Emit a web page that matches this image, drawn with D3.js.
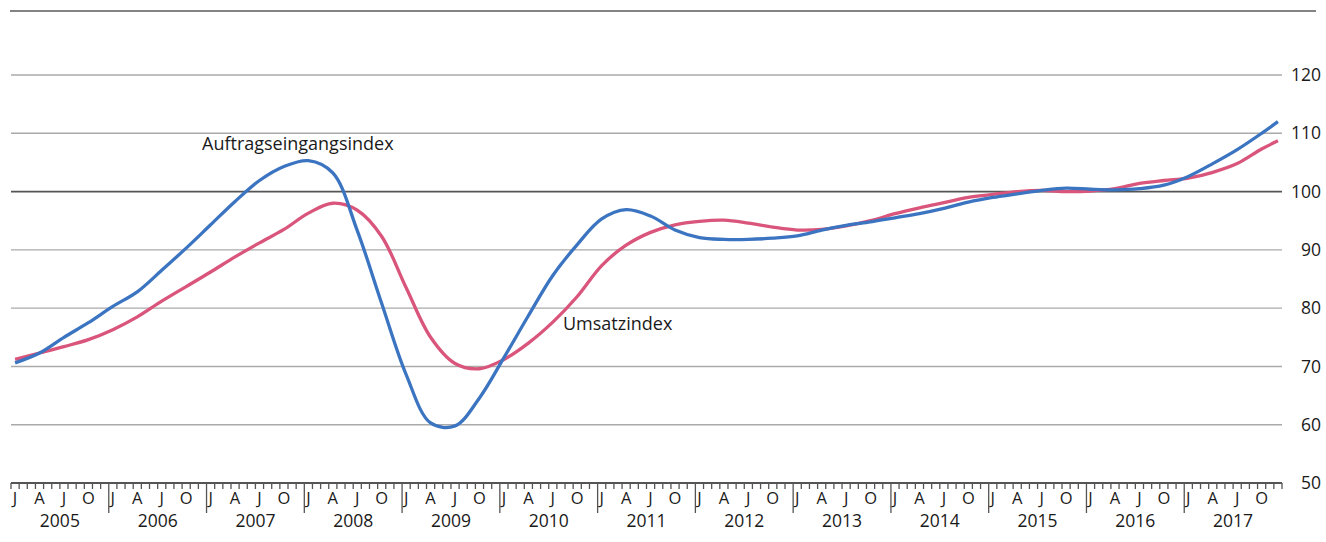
<!DOCTYPE html>
<html>
<head>
<meta charset="utf-8">
<script src="https://cdn.jsdelivr.net/npm/d3@7"></script>
<style>
  html, body { margin: 0; padding: 0; background: #fff; }
  svg { display: block; }
  text { font-family: "Open Sans", "Noto Sans", sans-serif; fill: #1a1a1a; }
</style>
</head>
<body>
<svg id="chart" width="1326" height="542"></svg>
<script>
// ---- data ----
const years = [2005, 2006, 2007, 2008, 2009, 2010, 2011, 2012, 2013, 2014, 2015, 2016, 2017];
const monthLetters = ["J", "A", "J", "O"];          // Jan, Apr, Jul, Oct
const monthLetterIdx = [0, 3, 6, 9];
const yTicks = [50, 60, 70, 80, 90, 100, 110, 120];
// month index (0 = Jan 2005) of each sampled value
const sampleMonths = [0,3,6,9,12,15,18,21,24,27,30,33,36,39,42,45,48,51,54,57,60,63,66,69,72,75,78,81,84,87,90,93,96,99,102,105,108,111,114,117,120,123,126,129,132,135,138,141,144,147,150,153,155];
const auftrag = [70.6,72.3,75.0,77.5,80.3,82.8,86.5,90.3,94.3,98.3,101.9,104.3,105.3,103.2,93.3,80.8,68.6,60.3,59.8,64.6,71.5,78.7,85.6,90.9,95.3,96.9,95.8,93.4,92.1,91.8,91.8,92.0,92.4,93.4,94.2,94.8,95.5,96.2,97.1,98.2,99.0,99.6,100.2,100.6,100.4,100.3,100.5,101.1,102.6,104.8,107.2,110.0,112.0];
const umsatz  = [71.2,72.3,73.4,74.6,76.3,78.5,81.2,83.7,86.2,88.8,91.2,93.5,96.3,98.0,96.8,92.3,83.5,75.0,70.5,69.6,71.2,74.0,77.6,82.0,87.3,90.8,93.0,94.3,94.9,95.1,94.6,93.9,93.4,93.5,94.1,95.0,96.2,97.2,98.1,99.0,99.5,100.0,100.2,100.0,100.1,100.5,101.4,101.9,102.3,103.3,104.8,107.3,108.7];
const seriesNames = ["Auftragseingangsindex", "Umsatzindex"];

// ---- chart ----
const svg = d3.select("#chart");
const nMonths = years.length * 12;
const x = d3.scaleLinear().domain([0, nMonths]).range([11, 1282]);
const y = d3.scaleLinear().domain([50, 120]).range([483, 75]);

// top frame line
svg.append("line").attr("x1", 10).attr("x2", 1316).attr("y1", 11).attr("y2", 11)
  .attr("stroke", "#5a5a5a").attr("stroke-width", 1.6);

// gridlines
svg.append("g").selectAll("line").data(yTicks.filter(d => d > 50)).join("line")
  .attr("x1", 11).attr("x2", 1282)
  .attr("y1", d => y(d)).attr("y2", d => y(d))
  .attr("stroke", d => d === 100 ? "#555" : "#aaa")
  .attr("stroke-width", d => d === 100 ? 1.8 : 1.4);

// right axis labels
svg.append("g").selectAll("text").data(yTicks).join("text")
  .attr("x", 1321).attr("y", d => y(d)).attr("dy", "0.35em")
  .attr("text-anchor", "end").attr("font-size", 17.5).text(d => d);

// x axis line
svg.append("line").attr("x1", 11).attr("x2", 1282).attr("y1", y(50)).attr("y2", y(50))
  .attr("stroke", "#555").attr("stroke-width", 1.8);

// month ticks
const monthTicks = d3.range(0, nMonths + 1);
svg.append("g").selectAll("line").data(monthTicks).join("line")
  .attr("x1", d => x(d)).attr("x2", d => x(d))
  .attr("y1", y(50))
  .attr("y2", d => (d % 12 === 0 && d > 0 && d < nMonths) ? 513 : y(50) + 6)
  .attr("stroke", "#555").attr("stroke-width", 1.3);

// month letters
const letterData = [];
years.forEach((yr, i) => monthLetterIdx.forEach((m, j) => letterData.push({ m: i * 12 + m, t: monthLetters[j] })));
svg.append("g").selectAll("text").data(letterData).join("text")
  .attr("x", d => x(d.m + 0.5)).attr("y", 504)
  .attr("text-anchor", "middle").attr("font-size", 16.5).text(d => d.t);

// year labels
svg.append("g").selectAll("text").data(years).join("text")
  .attr("x", (d, i) => x(i * 12 + 6)).attr("y", 527)
  .attr("text-anchor", "middle").attr("font-size", 17.5).text(d => d);

// lines
const line = d3.line()
  .x((d, i) => x(sampleMonths[i] + 0.5))
  .y(d => y(d))
  .curve(d3.curveCatmullRom.alpha(0.5));

svg.append("path").datum(umsatz).attr("d", line)
  .attr("fill", "none").attr("stroke", "#d9557b").attr("stroke-width", 3.3)
  .attr("stroke-linejoin", "round");
svg.append("path").datum(auftrag).attr("d", line)
  .attr("fill", "none").attr("stroke", "#3b74c0").attr("stroke-width", 3.3)
  .attr("stroke-linejoin", "round");

// annotations
svg.append("text").attr("x", 202).attr("y", 150).attr("font-size", 18).text(seriesNames[0]);
svg.append("text").attr("x", 563).attr("y", 330).attr("font-size", 18).text(seriesNames[1]);
</script>
</body>
</html>
